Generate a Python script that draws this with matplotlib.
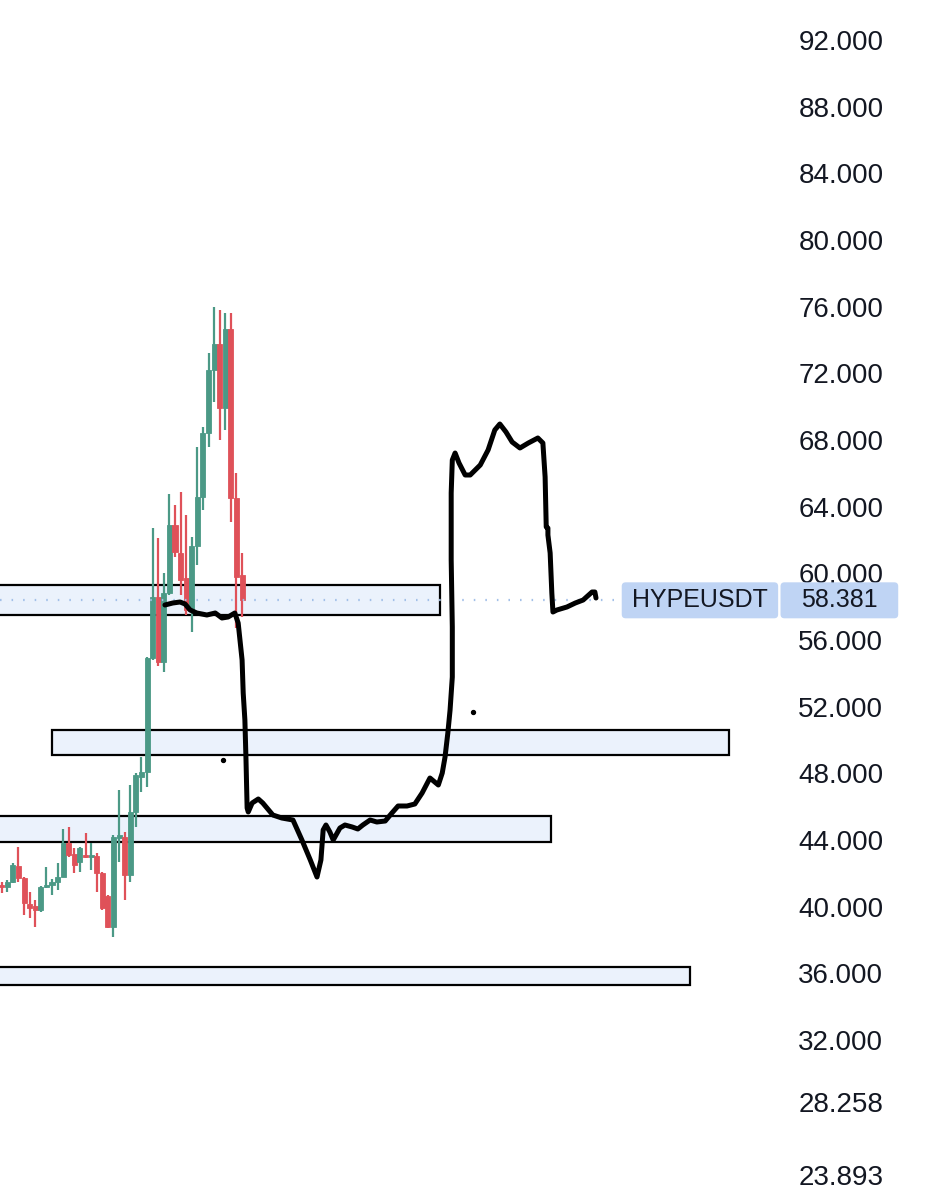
import numpy as np
import matplotlib
matplotlib.use("Agg")
import matplotlib.pyplot as plt
from matplotlib.patches import Rectangle, FancyBboxPatch

plt.rcParams['font.family'] = ['Liberation Sans', 'DejaVu Sans']

# candles: open, high, low, close (bar index = position in list)
opens = [41.3, 41.18, 41.48, 42.44, 41.72, 40.16, 40.04, 39.8, 41.18, 41.3,
         41.48, 41.78, 43.82, 43.16, 42.68, 43.1, 42.98, 43.04, 42.02, 40.64,
         38.78, 44.12, 44.18, 41.9, 45.68, 47.78, 48.08, 54.92, 58.58, 54.68,
         58.82, 62.9, 61.22, 59.72, 57.8, 61.64, 64.58, 68.42, 72.2, 73.76,
         69.92, 74.66, 64.52, 59.9]
highs = [41.48, 41.6, 42.62, 43.58, 41.78, 40.88, 40.4, 41.24, 42.38, 41.66,
         42.62, 44.66, 44.78, 43.52, 43.58, 44.42, 43.82, 43.22, 42.08, 40.7,
         44.3, 47.0, 44.48, 47.3, 48.02, 48.98, 54.98, 62.72, 62.12, 60.02,
         64.76, 64.1, 64.88, 63.5, 62.18, 67.58, 68.78, 73.22, 75.98, 75.8,
         75.62, 75.62, 66.02, 61.22]
lows = [40.82, 40.88, 41.42, 41.48, 39.5, 39.32, 38.78, 39.68, 41.12, 40.7,
        41.0, 41.78, 42.98, 42.02, 42.08, 42.92, 42.2, 40.88, 39.8, 38.72,
        38.18, 42.68, 40.4, 41.48, 44.78, 46.88, 47.18, 54.8, 54.44, 54.08,
        58.7, 60.98, 58.7, 57.5, 56.48, 60.5, 63.8, 67.58, 70.28, 68.0,
        68.6, 63.08, 56.72, 57.38]
closes = [41.18, 41.48, 42.5, 41.72, 40.22, 39.92, 39.8, 41.18, 41.3, 41.48,
          41.78, 43.82, 43.1, 42.5, 43.52, 42.98, 43.1, 42.02, 39.92, 38.78,
          44.18, 44.3, 41.9, 45.68, 47.9, 48.08, 54.92, 58.58, 54.68, 58.82,
          62.9, 61.28, 59.6, 57.8, 61.64, 64.58, 68.42, 72.2, 73.76, 69.92,
          74.66, 64.52, 59.78, 58.4]

# zones: (left bar, right bar, bottom price, top price)
zones = [(-5, 78.4, 57.5, 59.3),
         (9.0, 130.1, 49.1, 50.58),
         (-5, 98.3, 43.88, 45.44),
         (-5, 123.1, 35.3, 36.38)]

# hand drawn path
path_x = [29.2, 30.6, 31.9, 32.8, 33.7, 34.9, 36.7, 38.2, 39.4, 40.5, 41.7, 42.3,
          43.0, 43.2, 43.5, 43.7, 43.9, 44.1, 44.8, 45.9, 46.7, 48.5, 50.1, 52.1,
          53.7, 55.2, 56.4, 57.1, 57.5, 58.0, 58.7, 59.3, 60.5, 61.4, 62.7, 63.7,
          64.6, 65.9, 67.1, 68.6, 69.8, 70.9, 72.5, 73.9, 75.2, 76.6, 78.1, 78.8,
          79.3, 79.8, 80.2, 80.6, 80.6, 80.4, 80.4, 80.6, 81.1, 81.8, 82.9, 83.8,
          85.6, 87.0, 88.2, 89.1, 90.2, 91.3, 92.7, 94.2, 95.9, 96.8, 97.2, 97.4,
          97.7, 97.7, 98.1, 98.4, 98.6, 99.3, 101.1, 102.6, 104.0, 105.6, 106.1, 106.3]
path_y = [58.1, 58.22, 58.28, 58.16, 57.8, 57.62, 57.5, 57.62, 57.32, 57.38, 57.62, 57.02,
          54.8, 52.82, 51.2, 48.8, 45.92, 45.68, 46.22, 46.46, 46.22, 45.5, 45.32, 45.2,
          44.0, 42.8, 41.78, 42.8, 44.6, 44.9, 44.48, 44.0, 44.72, 44.9, 44.78, 44.66,
          44.9, 45.2, 45.08, 45.14, 45.62, 46.04, 46.04, 46.16, 46.82, 47.72, 47.3, 48.02,
          48.98, 50.42, 51.8, 53.78, 56.78, 60.8, 64.82, 66.8, 67.22, 66.62, 65.9, 65.9,
          66.5, 67.4, 68.6, 68.96, 68.48, 67.88, 67.52, 67.82, 68.12, 67.82, 65.78, 62.78,
          62.72, 62.3, 61.22, 58.82, 57.68, 57.8, 57.98, 58.22, 58.4, 58.88, 58.88, 58.52]
dots_x = [39.6, 84.3]
dots_y = [48.8, 51.68]

symbol = "HYPEUSDT"
last_price = 58.381
tick_vals = [92, 88, 84, 80, 76, 72, 68, 64, 60, 56, 52, 48, 44, 40, 36, 32, 28.258, 23.893]

green = '#4b9986'
red = '#df5159'
label_bg = '#bfd4f4'
text_col = '#131722'

fig = plt.figure(figsize=(9.25, 12), dpi=100)
ax = fig.add_axes([0, 0, 790 / 925, 1])

for left, right, bot, top in zones:
    ax.add_patch(Rectangle((left, bot), right - left, top - bot, facecolor='#ebf2fc',
                           edgecolor='black', linewidth=1.6, zorder=1))

idx = np.arange(len(opens))
o = np.array(opens)
c = np.array(closes)
cols = [green if cc >= oo else red for oo, cc in zip(o, c)]
ax.vlines(idx, lows, highs, colors=cols, linewidth=1.6, zorder=2)
body_h = np.maximum(np.abs(c - o), 0.12)
ax.bar(idx, body_h, bottom=np.minimum(o, c), width=0.9, color=cols,
       edgecolor=cols, linewidth=0.6, zorder=2)

ax.axhline(last_price, color='#a3c0e8', linestyle=(0, (0.7, 4.5)), linewidth=1.6, zorder=2.5)

ax.plot(path_x, path_y, color='black', linewidth=3.6, solid_capstyle='round',
        solid_joinstyle='round', zorder=3)
ax.scatter(dots_x, dots_y, s=8, color='black', zorder=3)

ax.set_xlim(-0.3, 141.0)
ax.set_ylim(22.4, 94.4)
ax.set_yticks(tick_vals)
ax.set_yticklabels([f"{v:.3f}" for v in tick_vals])
ax.yaxis.tick_right()
ax.tick_params(axis='y', length=0, pad=6, labelsize=20, colors=text_col)
ax.set_xticks([])
for s in ax.spines.values():
    s.set_visible(False)

# last price label boxes (x in axes fraction, y in price)
tr = ax.get_yaxis_transform()
half_h = 1.08
asp = (1200 / 72) ** -1 * 790
for x0, x1, txt in [(0.787, 0.985, symbol), (0.988, 1.137, f"{last_price:.3f}")]:
    ax.add_patch(FancyBboxPatch((x0, last_price - half_h), x1 - x0, 2 * half_h,
                                boxstyle='round,pad=0,rounding_size=0.005',
                                mutation_aspect=asp, transform=tr, fc=label_bg,
                                ec='none', clip_on=False, zorder=4))
    ax.text((x0 + x1) / 2, last_price, txt, transform=tr, ha='center', va='center',
            fontsize=18, color=text_col, zorder=5, clip_on=False)

fig.savefig("out.png", dpi=100)
